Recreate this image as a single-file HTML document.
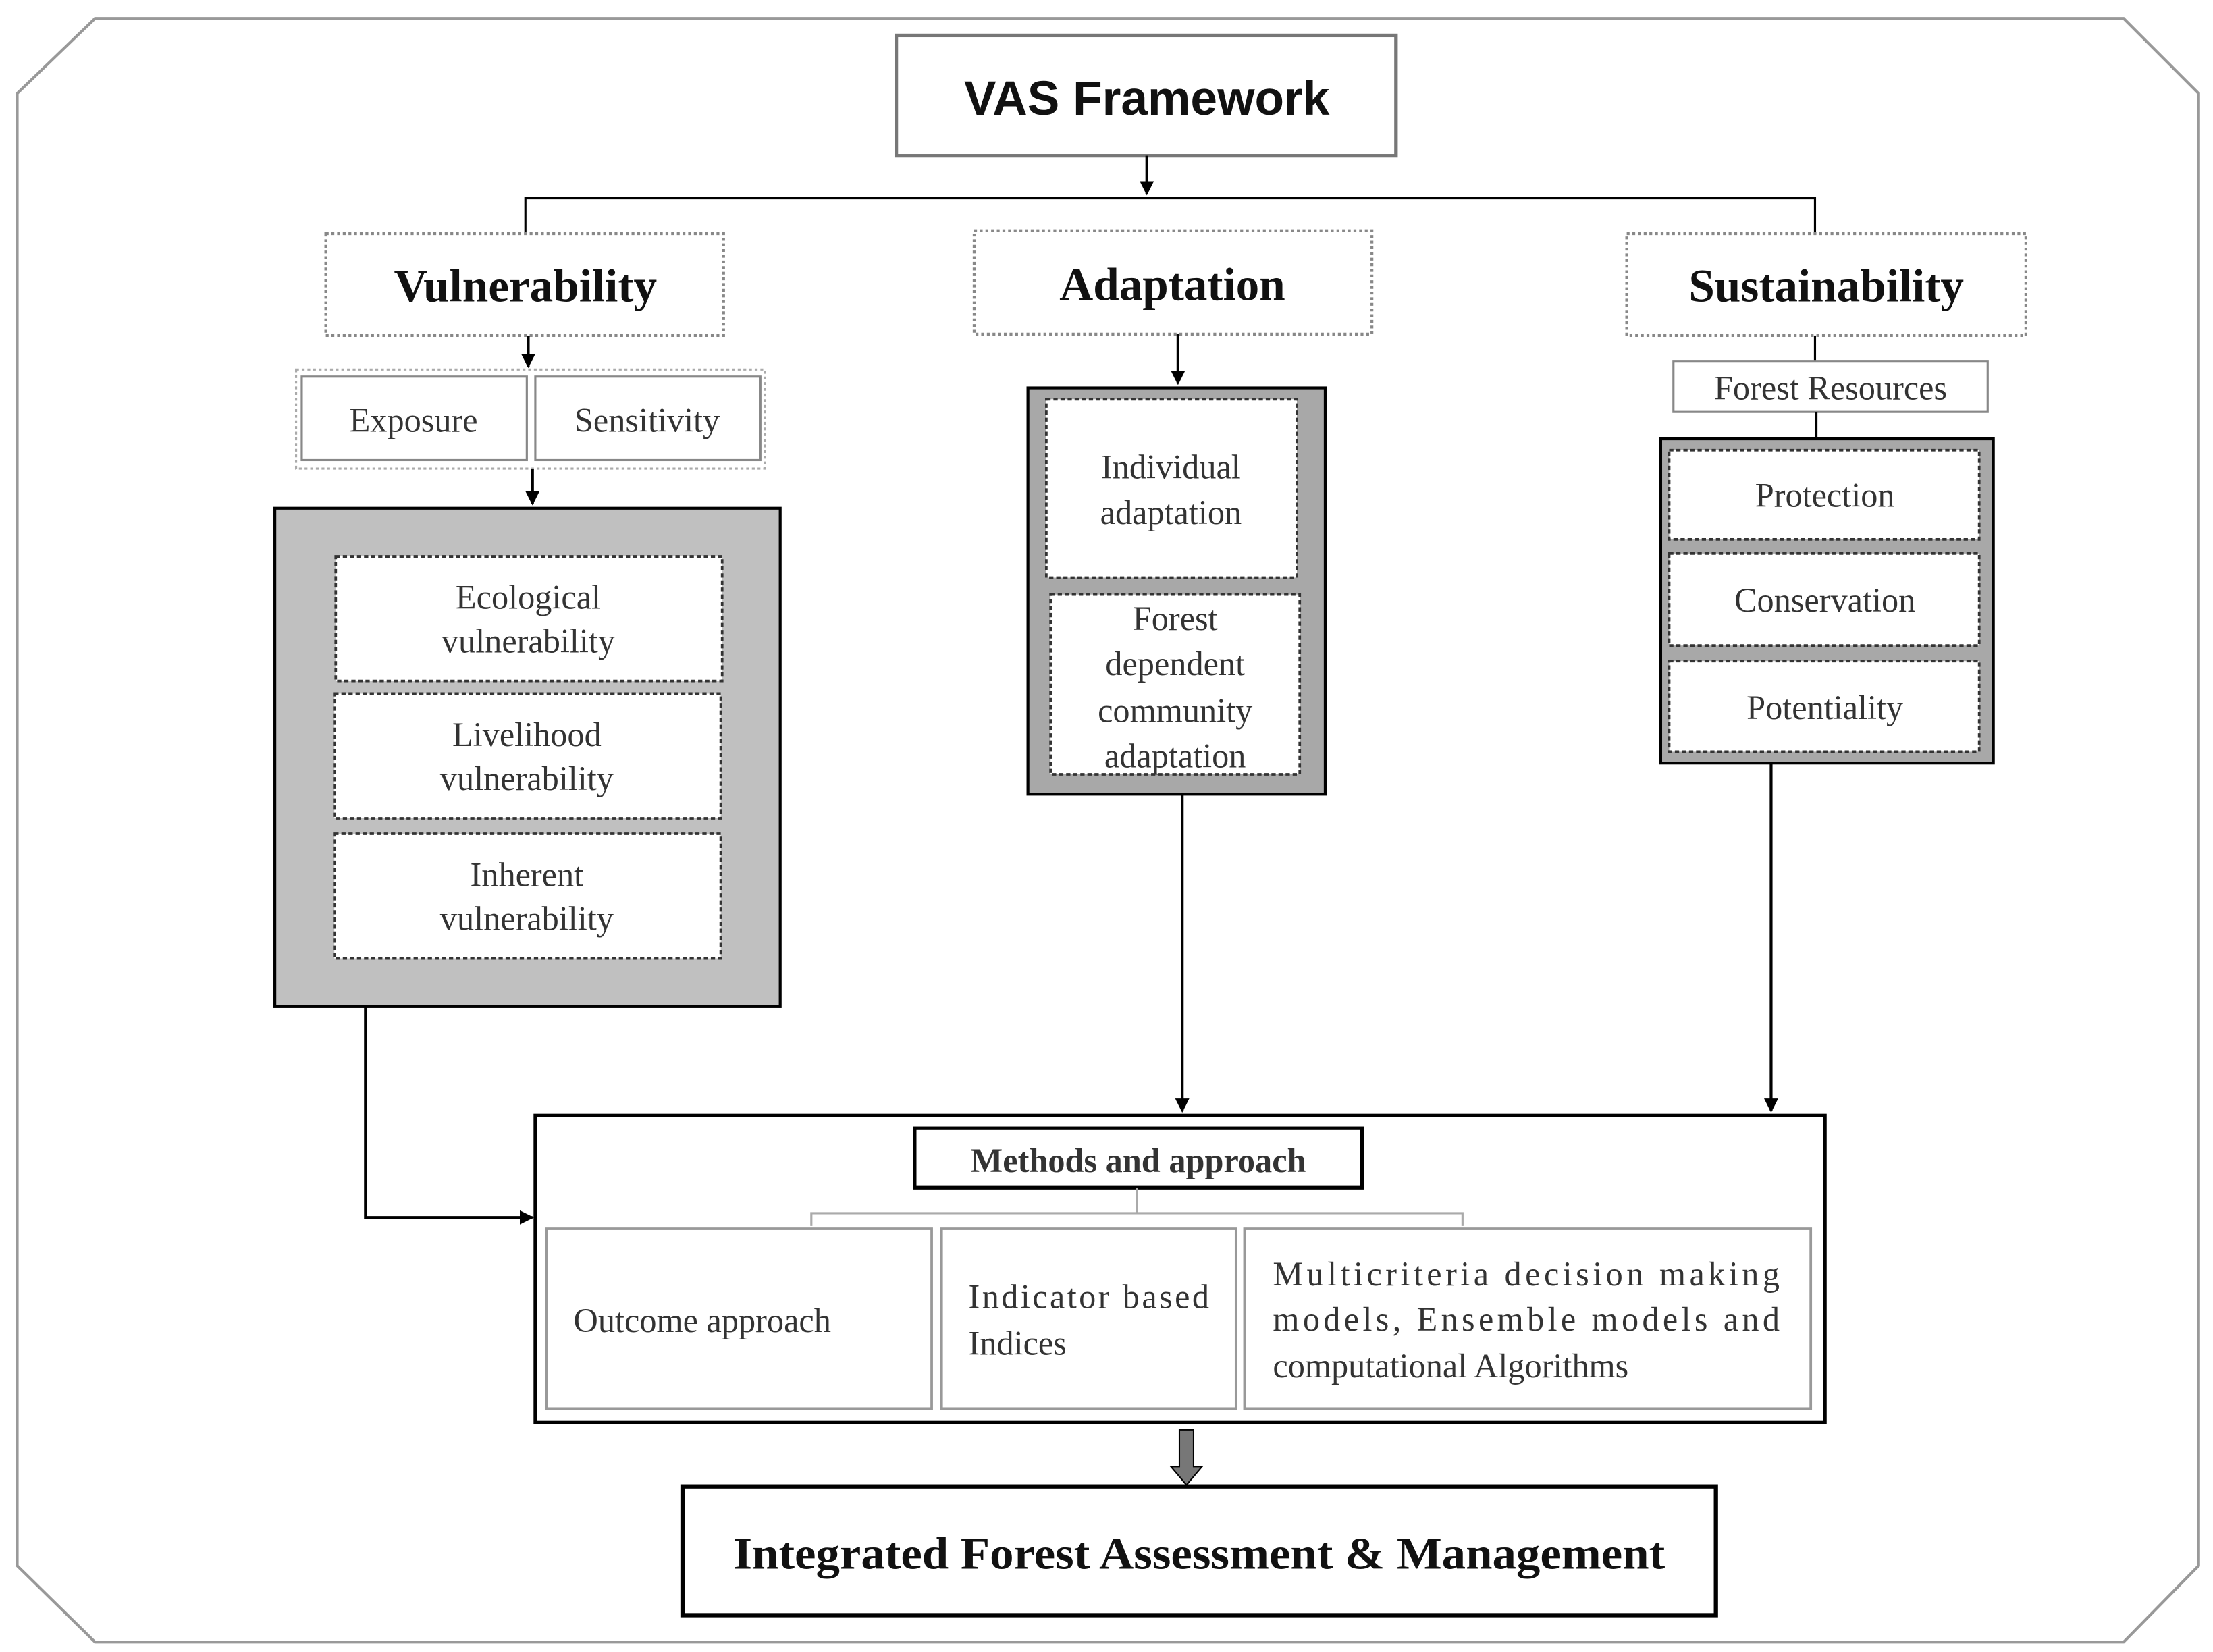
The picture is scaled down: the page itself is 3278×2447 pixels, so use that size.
<!DOCTYPE html>
<html><head><meta charset="utf-8"><style>
html,body{margin:0;padding:0;background:#fff;}
svg{display:block;}
.s{font-family:"Liberation Serif",serif;fill:#333;}
</style></head><body>
<svg width="3278" height="2447" viewBox="0 0 1563 1167" xmlns="http://www.w3.org/2000/svg">
<defs>
<marker id="a" markerWidth="10" markerHeight="10" refX="9" refY="5" orient="auto" markerUnits="userSpaceOnUse"><path d="M0,0 L10,5 L0,10 z" fill="#000"/></marker>
</defs>
<rect width="1563" height="1167" fill="#fff"/>
<polygon points="67,13 1500,13 1553,66 1553,1106 1500,1160 67,1160 12,1106 12,66" fill="none" stroke="#999" stroke-width="2"/>

<rect x="633" y="25" width="353" height="85" fill="#fff" stroke="#777" stroke-width="2.5"/>
<text x="810" y="81" text-anchor="middle" font-family="Liberation Sans Narrow, Liberation Sans, sans-serif" font-weight="bold" font-size="34" fill="#111">VAS Framework</text>
<line x1="810" y1="110" x2="810" y2="137" stroke="#000" stroke-width="2" marker-end="url(#a)"/>
<polyline points="371,165 371,140 1282,140 1282,165" fill="none" stroke="#000" stroke-width="1.5"/>

<g stroke="#888" stroke-width="2" stroke-dasharray="2,2" fill="#fff">
<rect x="230" y="165" width="281" height="72"/>
<rect x="688" y="163" width="281" height="73"/>
<rect x="1149" y="165" width="282" height="72"/>
</g>
<g font-family="Liberation Serif,serif" font-weight="bold" font-size="33" fill="#111" text-anchor="middle">
<text x="371" y="213">Vulnerability</text>
<text x="828" y="212">Adaptation</text>
<text x="1290" y="213">Sustainability</text>
</g>

<line x1="373" y1="237" x2="373" y2="259" stroke="#000" stroke-width="2" marker-end="url(#a)"/>
<rect x="209" y="261" width="331" height="70" fill="#fff" stroke="#aaa" stroke-width="1.5" stroke-dasharray="2,2"/>
<rect x="213" y="266" width="159" height="59" fill="#fff" stroke="#888" stroke-width="1.5"/>
<rect x="378" y="266" width="159" height="59" fill="#fff" stroke="#888" stroke-width="1.5"/>
<text class="s" x="292" y="305" text-anchor="middle" font-size="24">Exposure</text>
<text class="s" x="457" y="305" text-anchor="middle" font-size="24">Sensitivity</text>
<line x1="376" y1="331" x2="376" y2="356" stroke="#000" stroke-width="2" marker-end="url(#a)"/>

<rect x="194" y="359" width="357" height="352" fill="#c0c0c0" stroke="#000" stroke-width="2"/>
<g fill="#fff" stroke="#333" stroke-width="1.8" stroke-dasharray="3,2">
<rect x="237" y="393" width="273" height="88"/>
<rect x="236" y="490" width="273" height="88"/>
<rect x="236" y="589" width="273" height="88"/>
</g>
<g class="s" font-size="24" text-anchor="middle">
<text x="373" y="430">Ecological</text><text x="373" y="461">vulnerability</text>
<text x="372" y="527">Livelihood</text><text x="372" y="558">vulnerability</text>
<text x="372" y="626">Inherent</text><text x="372" y="657">vulnerability</text>
</g>

<line x1="832" y1="236" x2="832" y2="271" stroke="#000" stroke-width="2" marker-end="url(#a)"/>
<rect x="726" y="274" width="210" height="287" fill="#a8a8a8" stroke="#000" stroke-width="2"/>
<g fill="#fff" stroke="#333" stroke-width="1.8" stroke-dasharray="3,2">
<rect x="739" y="282" width="177" height="126"/>
<rect x="742" y="420" width="176" height="127"/>
</g>
<g class="s" font-size="24" text-anchor="middle">
<text x="827" y="338">Individual</text><text x="827" y="370">adaptation</text>
<text x="830" y="445">Forest</text><text x="830" y="477">dependent</text><text x="830" y="510">community</text><text x="830" y="542">adaptation</text>
</g>
<line x1="835" y1="561" x2="835" y2="785" stroke="#000" stroke-width="2" marker-end="url(#a)"/>

<line x1="1282" y1="237" x2="1282" y2="255" stroke="#000" stroke-width="1.5"/>
<rect x="1182" y="255" width="222" height="36" fill="#fff" stroke="#888" stroke-width="1.5"/>
<text class="s" x="1293" y="282" text-anchor="middle" font-size="24">Forest Resources</text>
<line x1="1283" y1="291" x2="1283" y2="310" stroke="#000" stroke-width="1.5"/>
<rect x="1173" y="310" width="235" height="229" fill="#a8a8a8" stroke="#000" stroke-width="2"/>
<g fill="#fff" stroke="#333" stroke-width="1.8" stroke-dasharray="3,2">
<rect x="1179" y="318" width="219" height="63"/>
<rect x="1179" y="391" width="219" height="65"/>
<rect x="1179" y="467" width="219" height="64"/>
</g>
<g class="s" font-size="24" text-anchor="middle">
<text x="1289" y="358">Protection</text>
<text x="1289" y="432">Conservation</text>
<text x="1289" y="508">Potentiality</text>
</g>
<line x1="1251" y1="539" x2="1251" y2="785" stroke="#000" stroke-width="2" marker-end="url(#a)"/>

<polyline points="258,711 258,860 376,860" fill="none" stroke="#000" stroke-width="2" marker-end="url(#a)"/>

<rect x="378" y="788" width="911" height="217" fill="#fff" stroke="#000" stroke-width="2.5"/>
<rect x="646" y="797" width="316" height="42" fill="#fff" stroke="#000" stroke-width="2.5"/>
<text x="804" y="828" text-anchor="middle" font-family="Liberation Serif,serif" font-weight="bold" font-size="24" fill="#333">Methods and approach</text>
<polyline points="803,839 803,857" fill="none" stroke="#aaa" stroke-width="1.5"/>
<polyline points="573,866 573,857 1033,857 1033,866" fill="none" stroke="#aaa" stroke-width="1.5"/>
<g fill="#fff" stroke="#999" stroke-width="1.8">
<rect x="386" y="868" width="272" height="127"/>
<rect x="665" y="868" width="208" height="127"/>
<rect x="879" y="868" width="400" height="127"/>
</g>
<g class="s" font-size="24">
<text x="405" y="941">Outcome approach</text>
<text x="684" y="924" textLength="170" lengthAdjust="spacing">Indicator based</text>
<text x="684" y="957">Indices</text>
<text x="899" y="908" textLength="358" lengthAdjust="spacing">Multicriteria decision making</text>
<text x="899" y="940" textLength="358" lengthAdjust="spacing">models, Ensemble models and</text>
<text x="899" y="973">computational Algorithms</text>
</g>

<path d="M833,1010 L843,1010 L843,1036 L849,1036 L838,1049 L827,1036 L833,1036 Z" fill="#777" stroke="#000" stroke-width="1"/>
<rect x="482" y="1050" width="730" height="91" fill="#fff" stroke="#000" stroke-width="3"/>
<text x="518" y="1108" textLength="658" lengthAdjust="spacingAndGlyphs" font-family="Liberation Serif,serif" font-weight="bold" font-size="32" fill="#111">Integrated Forest Assessment &amp; Management</text>
</svg>
</body></html>
